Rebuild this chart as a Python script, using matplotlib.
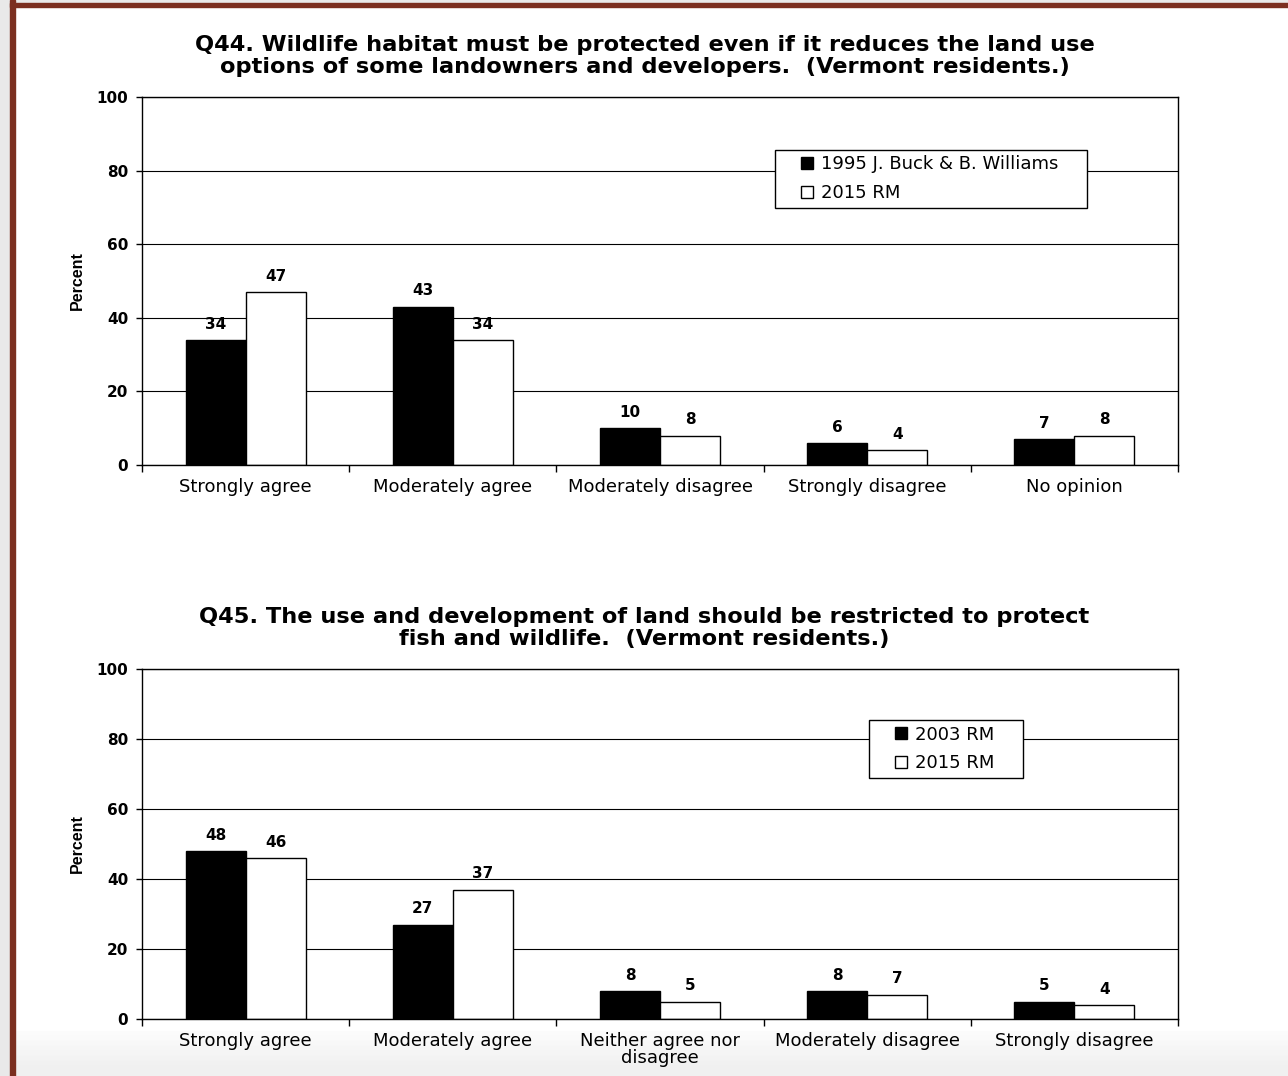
import numpy as np
import matplotlib.pyplot as plt
from matplotlib.lines import Line2D
from matplotlib.patches import Rectangle

# Q44 data (Vermont residents)
q44_cats = ["Strongly agree", "Moderately agree", "Moderately disagree",
            "Strongly disagree", "No opinion"]
q44_1995 = [34, 43, 10, 6, 7]
q44_2015 = [47, 34, 8, 4, 8]
q44_labels = ["1995 J. Buck & B. Williams", "2015 RM"]
q44_title = ("Q44. Wildlife habitat must be protected even if it reduces the land use\n"
             "options of some landowners and developers.  (Vermont residents.)")

# Q45 data (Vermont residents)
q45_cats = ["Strongly agree", "Moderately agree", "Neither agree nor\ndisagree",
            "Moderately disagree", "Strongly disagree"]
q45_2003 = [48, 27, 8, 8, 5]
q45_2015 = [46, 37, 5, 7, 4]
q45_labels = ["2003 RM", "2015 RM"]
q45_title = ("Q45. The use and development of land should be restricted to protect\n"
             "fish and wildlife.  (Vermont residents.)")

plt.rcParams['font.family'] = ['DejaVu Sans']


def draw_panel(ax, cats, old, new, labels, title, leg_xy):
    """Draw one grouped bar panel with black/white bars."""
    x = np.arange(len(cats))
    w = 0.29
    ax.set_axisbelow(True)
    ax.yaxis.grid(True, color='black', linewidth=0.8)
    b1 = ax.bar(x - w / 2, old, w, color='black', edgecolor='black', linewidth=1.0)
    b2 = ax.bar(x + w / 2, new, w, color='white', edgecolor='black', linewidth=1.0)
    for bars in (b1, b2):
        ax.bar_label(bars, padding=6, fontsize=11, fontweight='bold')

    ax.set_xlim(-0.5, len(cats) - 0.5)
    ax.set_ylim(0, 100)
    ax.set_yticks([0, 20, 40, 60, 80, 100])
    ax.tick_params(axis='y', direction='out', length=4, width=1, pad=6, labelsize=11)
    for t in ax.get_yticklabels():
        t.set_fontweight('bold')

    # ticks at the category boundaries, labels at the centres
    ax.set_xticks(np.arange(len(cats) + 1) - 0.5)
    ax.set_xticklabels([])
    ax.tick_params(axis='x', which='major', direction='out', length=5, width=1)
    ax.set_xticks(x, minor=True)
    ax.set_xticklabels(cats, minor=True, fontsize=13, linespacing=0.95)
    ax.tick_params(axis='x', which='minor', length=0, pad=9)

    for s in ax.spines.values():
        s.set_linewidth(1.0)
        s.set_color('black')

    ax.set_ylabel("Percent", fontsize=11.5, fontweight='bold',
                  family='Liberation Sans', labelpad=8)
    ax.set_title(title, fontsize=16.2, fontweight='bold', linespacing=1.15,
                 pad=17, x=0.485)

    handles = [Line2D([], [], ls='none', marker='s', markersize=8,
                      markerfacecolor=c, markeredgecolor='black', markeredgewidth=1)
               for c in ('black', 'white')]
    ax.legend(handles, [lab + "    " for lab in labels], loc='upper left',
              bbox_to_anchor=leg_xy, borderaxespad=0, fontsize=13, fancybox=False,
              framealpha=1, edgecolor='black', handlelength=2.9,
              handletextpad=-0.65, labelspacing=0.6, borderpad=0.3)


fig = plt.figure(figsize=(12.88, 10.76), dpi=100)

# page decoration: grey margins and brown frame lines
fig.patches.append(Rectangle((0, 0), 10 / 1288, 1, transform=fig.transFigure,
                             color='#e9e9e9', zorder=-2))
fig.patches.append(Rectangle((10 / 1288, 0), 5 / 1288, 1, transform=fig.transFigure,
                             color='#7b2f20', zorder=-1))
fig.patches.append(Rectangle((0, 1 - 3 / 1076), 1, 3 / 1076, transform=fig.transFigure,
                             color='#e9e9e9', zorder=-2))
fig.patches.append(Rectangle((10 / 1288, 1 - 7 / 1076), 1, 4 / 1076, transform=fig.transFigure,
                             color='#7b2f20', zorder=-1))
# light grey band at the foot of the page
for i, g in enumerate(np.linspace(0.985, 0.94, 8)):
    fig.patches.append(Rectangle((15 / 1288, 0), 1, (45 - i * 5) / 1076,
                                 transform=fig.transFigure, color=str(g), zorder=-3))

ax1 = fig.add_axes([142 / 1288, 1 - 465 / 1076, 1036 / 1288, 368 / 1076])
ax2 = fig.add_axes([142 / 1288, 1 - 1019 / 1076, 1036 / 1288, 350 / 1076])

draw_panel(ax1, q44_cats, q44_1995, q44_2015, q44_labels, q44_title, (0.611, 0.856))
draw_panel(ax2, q45_cats, q45_2003, q45_2015, q45_labels, q45_title, (0.7017, 0.854))

fig.savefig("out.png", dpi=100)
